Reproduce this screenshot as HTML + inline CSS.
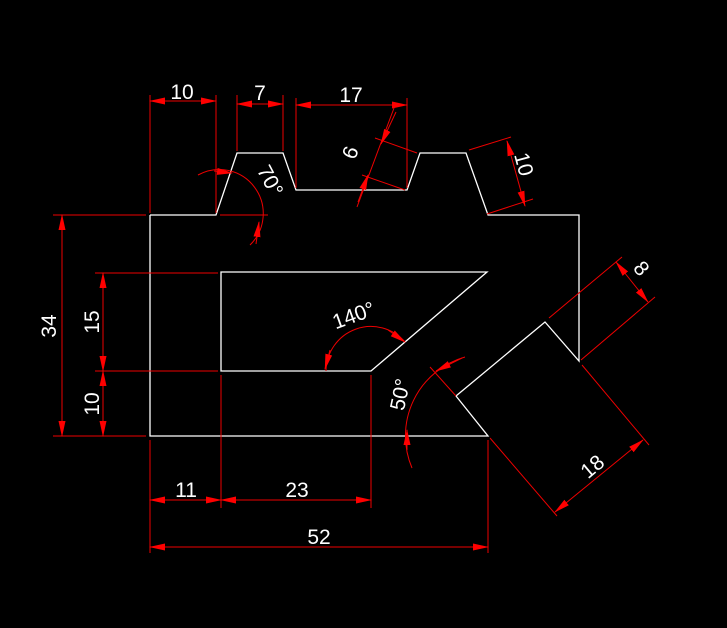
<!DOCTYPE html>
<html><head><style>html,body{margin:0;padding:0;background:#000;width:727px;height:628px;overflow:hidden}</style></head>
<body>
<svg width="727" height="628" viewBox="0 0 727 628" xmlns="http://www.w3.org/2000/svg">
<defs>
<marker id="a" markerWidth="16" markerHeight="8" refX="15" refY="4" orient="auto-start-reverse" markerUnits="userSpaceOnUse">
<path d="M0,0.5 L16,4 L0,7.5 Z" fill="#f00"/>
</marker>
</defs>
<rect width="727" height="628" fill="#000"/>
<g stroke="#fff" stroke-width="1.3" fill="none">
<polyline points="150,215 216,215 237,153 283,153 296,190 407,190 420,153 466,153 488,215 579,215 579,361 545,322 456,396 488,436 150,436 150,215"/>
<polygon points="221,272 487,272 371,371 221,371"/>
</g>
<g stroke="#e00" stroke-width="1" fill="none">
<line x1="150" y1="95" x2="150" y2="213"/><line x1="216" y1="95" x2="216" y2="213"/>
<line x1="150" y1="101" x2="216" y2="101" marker-start="url(#a)" marker-end="url(#a)"/>
<line x1="237" y1="95" x2="237" y2="151"/><line x1="283" y1="95" x2="283" y2="151"/>
<line x1="237" y1="104" x2="283" y2="104" marker-start="url(#a)" marker-end="url(#a)"/>
<line x1="296" y1="98" x2="296" y2="188"/><line x1="407" y1="98" x2="407" y2="188"/>
<line x1="296" y1="105" x2="407" y2="105" marker-start="url(#a)" marker-end="url(#a)"/>
<line x1="375" y1="138" x2="417" y2="153"/><line x1="362" y1="175" x2="405" y2="190"/>
<line x1="394" y1="108" x2="357" y2="207"/>
<line x1="396" y1="112" x2="381" y2="144" marker-end="url(#a)"/>
<line x1="358" y1="202" x2="368" y2="175" marker-end="url(#a)"/>
<line x1="469" y1="150" x2="511" y2="137"/><line x1="487" y1="214" x2="533" y2="199"/>
<line x1="507" y1="141" x2="525" y2="206" marker-start="url(#a)" marker-end="url(#a)"/>
<line x1="53" y1="215" x2="146" y2="215"/><line x1="53" y1="436" x2="146" y2="436"/>
<line x1="62" y1="215" x2="62" y2="436" marker-start="url(#a)" marker-end="url(#a)"/>
<line x1="95" y1="273" x2="218" y2="273"/><line x1="95" y1="371" x2="218" y2="371"/>
<line x1="103" y1="273" x2="103" y2="371" marker-start="url(#a)" marker-end="url(#a)"/>
<line x1="103" y1="371" x2="103" y2="436" marker-start="url(#a)" marker-end="url(#a)"/>
<line x1="150" y1="440" x2="150" y2="553"/><line x1="221" y1="375" x2="221" y2="508"/>
<line x1="371" y1="375" x2="371" y2="508"/><line x1="488" y1="440" x2="488" y2="553"/>
<line x1="150" y1="500" x2="221" y2="500" marker-start="url(#a)" marker-end="url(#a)"/>
<line x1="221" y1="500" x2="371" y2="500" marker-start="url(#a)" marker-end="url(#a)"/>
<line x1="150" y1="547" x2="488" y2="547" marker-start="url(#a)" marker-end="url(#a)"/>
<line x1="549" y1="318" x2="622" y2="257"/><line x1="581" y1="360" x2="655" y2="297"/>
<line x1="616" y1="262" x2="648" y2="302" marker-start="url(#a)" marker-end="url(#a)"/>
<line x1="490" y1="438" x2="557" y2="516"/><line x1="582" y1="365" x2="649" y2="445"/>
<line x1="555" y1="512" x2="643" y2="440" marker-start="url(#a)" marker-end="url(#a)"/>
<line x1="220" y1="215" x2="268" y2="215"/>
<path d="M198,175 A44,44 0 0 1 250,245"/>
<line x1="214" y1="171" x2="232" y2="173" marker-end="url(#a)"/>
<line x1="256" y1="244" x2="259" y2="222" marker-end="url(#a)"/>
<path d="M326,371 A45,45 0 0 1 405,342"/>
<line x1="330" y1="350" x2="325" y2="369" marker-end="url(#a)"/>
<line x1="388" y1="330" x2="405" y2="342" marker-end="url(#a)"/>
<line x1="430" y1="367" x2="456" y2="396"/>
<path d="M465,357 A82,82 0 0 0 412,468"/>
<line x1="462" y1="358" x2="436" y2="371" marker-end="url(#a)"/>
<line x1="407" y1="450" x2="407" y2="430" marker-end="url(#a)"/>
</g>
<g fill="#fff" font-family="Liberation Sans, sans-serif" font-size="21" text-anchor="middle">
<text x="182" y="99">10</text>
<text x="260" y="100">7</text>
<text x="351" y="102">17</text>
<text x="186" y="497">11</text>
<text x="297" y="497">23</text>
<text x="319" y="544">52</text>
<text transform="translate(56,326) rotate(-90)">34</text>
<text transform="translate(99,322) rotate(-90)">15</text>
<text transform="translate(99,404) rotate(-90)">10</text>
<text transform="translate(357,155) rotate(-70)">6</text>
<text transform="translate(517,166) rotate(75)">10</text>
<text transform="translate(636,273) rotate(50)">8</text>
<text transform="translate(597,472) rotate(-40)">18</text>
<text transform="translate(264,184) rotate(62)">70°</text>
<text transform="translate(356,322) rotate(-20)">140°</text>
<text transform="translate(407,396) rotate(-78)">50°</text>
</g>
</svg>
</body></html>
